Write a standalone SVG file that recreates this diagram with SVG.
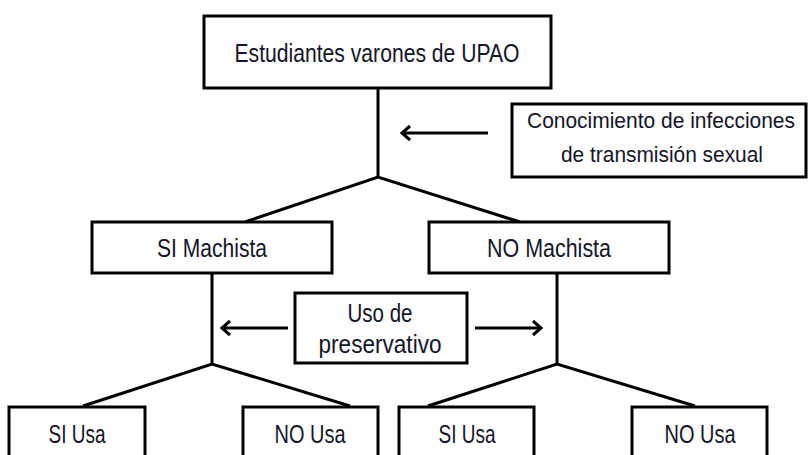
<svg xmlns="http://www.w3.org/2000/svg" width="808" height="455" viewBox="0 0 808 455">
<style>
.box{fill:#fff;stroke:#000;stroke-width:3}
.ln{fill:none;stroke:#000;stroke-width:3;stroke-linejoin:miter}
.t{font-family:"Liberation Sans",Arial,sans-serif;font-size:26px;fill:#141428;text-anchor:middle}
.s{font-size:22px}
</style>
<defs>
<marker id="ah" markerUnits="userSpaceOnUse" markerWidth="20" markerHeight="20" refX="11" refY="10" orient="auto">
<path d="M3,3 L11,10 L3,17" fill="none" stroke="#000" stroke-width="3"/>
</marker>
</defs>
<rect width="808" height="455" fill="#fff"/>
<g id="connectors">
<path class="ln" d="M378,88 V177 M245,222 L378,177 L520,222"/>
<path class="ln" d="M212,273 V364 M83,406 L212,364 L350,406"/>
<path class="ln" d="M557,273 V364 M428,406 L557,364 L695,406"/>
<line class="ln" x1="488" y1="133" x2="402" y2="133" marker-end="url(#ah)"/>
<line class="ln" x1="288" y1="328" x2="222" y2="328" marker-end="url(#ah)"/>
<line class="ln" x1="475" y1="328" x2="541" y2="328" marker-end="url(#ah)"/>
</g>
<g id="n-root">
<rect class="box" x="204" y="16" width="347" height="72"/>
<text class="t" x="377" y="62" textLength="285" lengthAdjust="spacingAndGlyphs">Estudiantes varones de UPAO</text>
</g>
<g id="n-conocimiento">
<rect class="box" x="512" y="104" width="294" height="73"/>
<text class="t s" x="661" y="128" textLength="268" lengthAdjust="spacingAndGlyphs">Conocimiento de infecciones</text>
<text class="t s" x="662" y="162" textLength="202" lengthAdjust="spacingAndGlyphs">de transmisión sexual</text>
</g>
<g id="n-si-machista">
<rect class="box" x="92" y="222" width="240" height="51"/>
<text class="t" x="212" y="257" textLength="110" lengthAdjust="spacingAndGlyphs">SI Machista</text>
</g>
<g id="n-no-machista">
<rect class="box" x="429" y="222" width="240" height="51"/>
<text class="t" x="549" y="257" textLength="124" lengthAdjust="spacingAndGlyphs">NO Machista</text>
</g>
<g id="n-uso">
<rect class="box" x="295" y="293" width="172" height="70"/>
<text class="t" x="380" y="322" textLength="65" lengthAdjust="spacingAndGlyphs">Uso de</text>
<text class="t" x="380" y="353" textLength="123" lengthAdjust="spacingAndGlyphs">preservativo</text>
</g>
<g id="n-si-usa-1">
<rect class="box" x="9" y="407" width="136" height="70"/>
<text class="t" x="77" y="443" textLength="57" lengthAdjust="spacingAndGlyphs">SI Usa</text>
</g>
<g id="n-no-usa-1">
<rect class="box" x="243" y="407" width="135" height="70"/>
<text class="t" x="310" y="443" textLength="71" lengthAdjust="spacingAndGlyphs">NO Usa</text>
</g>
<g id="n-si-usa-2">
<rect class="box" x="399" y="407" width="135" height="70"/>
<text class="t" x="467" y="443" textLength="57" lengthAdjust="spacingAndGlyphs">SI Usa</text>
</g>
<g id="n-no-usa-2">
<rect class="box" x="632" y="407" width="135" height="70"/>
<text class="t" x="700" y="443" textLength="71" lengthAdjust="spacingAndGlyphs">NO Usa</text>
</g>
</svg>
